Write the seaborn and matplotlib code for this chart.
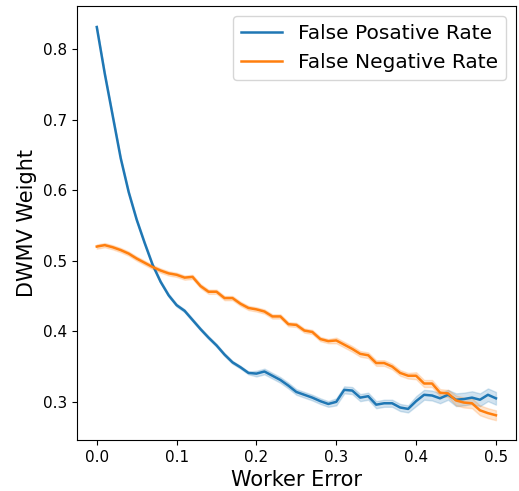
import numpy as np
import pandas as pd
import seaborn as sns
import matplotlib.pyplot as plt

# worker error levels
worker_error = np.round(np.arange(0, 0.505, 0.01), 2)

# mean DWMV weight per error level
fpr_mean = [0.831, 0.765, 0.705, 0.645, 0.597, 0.558, 0.525, 0.494, 0.470, 0.451,
            0.437, 0.429, 0.416, 0.403, 0.391, 0.380, 0.367, 0.356, 0.349, 0.341,
            0.340, 0.343, 0.337, 0.331, 0.323, 0.314, 0.310, 0.306, 0.301, 0.297,
            0.300, 0.317, 0.316, 0.306, 0.308, 0.296, 0.298, 0.298, 0.292, 0.290,
            0.301, 0.310, 0.309, 0.305, 0.310, 0.303, 0.304, 0.306, 0.303, 0.310,
            0.305]
fnr_mean = [0.520, 0.522, 0.519, 0.515, 0.510, 0.503, 0.497, 0.491, 0.486, 0.482,
            0.480, 0.476, 0.477, 0.464, 0.456, 0.456, 0.447, 0.447, 0.439, 0.433,
            0.431, 0.428, 0.421, 0.421, 0.410, 0.409, 0.401, 0.399, 0.389, 0.386,
            0.387, 0.381, 0.375, 0.368, 0.366, 0.355, 0.355, 0.350, 0.341, 0.337,
            0.337, 0.326, 0.326, 0.313, 0.312, 0.302, 0.299, 0.298, 0.288, 0.284,
            0.281]

# half width of the shaded band
fpr_spread = [0.002] * 20 + [0.004] * 10 + [0.005] * 10 + [0.007] * 5 + [0.009] * 6
fnr_spread = [0.003] * 30 + [0.004] * 10 + [0.005] * 5 + [0.007] * 6

series = {"False Posative Rate": (fpr_mean, fpr_spread),
          "False Negative Rate": (fnr_mean, fnr_spread)}

# long form: two runs per point (mean - spread, mean + spread)
rows = []
for name, (mean, spread) in series.items():
    for x, m, s in zip(worker_error, mean, spread):
        rows.append({"Worker Error": x, "DWMV Weight": m - s, "Rate": name})
        rows.append({"Worker Error": x, "DWMV Weight": m + s, "Rate": name})
df = pd.DataFrame(rows)

fig, ax = plt.subplots(figsize=(5.19, 4.91), dpi=100)
sns.lineplot(data=df, x="Worker Error", y="DWMV Weight", hue="Rate",
             errorbar=("pi", 100), palette=["#1f77b4", "#ff7f0e"],
             linewidth=1.8, ax=ax)

ax.set_xlabel("Worker Error", fontsize=15)
ax.set_ylabel("DWMV Weight", fontsize=15)
ax.tick_params(labelsize=11)
ax.set_xticks([0.0, 0.1, 0.2, 0.3, 0.4, 0.5])
ax.set_yticks([0.3, 0.4, 0.5, 0.6, 0.7, 0.8])
ax.legend(title=None, fontsize=14.5, loc="upper right")

plt.subplots_adjust(left=0.148, right=0.994, top=0.988, bottom=0.104)
plt.savefig("out.png", dpi=100)
